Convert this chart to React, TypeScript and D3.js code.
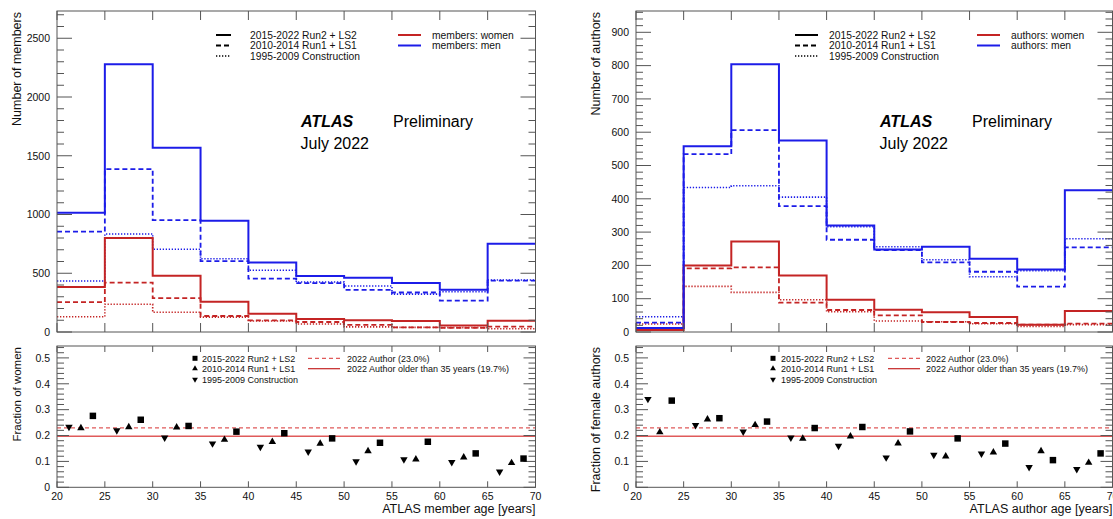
import React from 'react';
import * as d3 from 'd3';

// ---- data ----------------------------------------------------------------
const ageEdges = [20, 25, 30, 35, 40, 45, 50, 55, 60, 65, 70];
const ageTicks = [20, 25, 30, 35, 40, 45, 50, 55, 60, 65, 70];

// ATLAS members per 5-year age bin
const memberMenRun2 = [1015, 2278, 1568, 947, 592, 477, 462, 416, 359, 751];
const memberMenRun1 = [854, 1387, 953, 604, 455, 416, 359, 336, 267, 437];
const memberMenConstr = [434, 834, 704, 624, 525, 425, 392, 322, 343, 442];
const memberWomenRun2 = [383, 800, 479, 258, 156, 111, 99, 94, 55, 96];
const memberWomenRun1 = [255, 420, 289, 136, 99, 85, 60, 40, 35, 45];
const memberWomenConstr = [130, 236, 168, 127, 94, 68, 44, 39, 37, 28];

// ATLAS authors per 5-year age bin
const authorMenRun2 = [12, 558, 804, 575, 320, 248, 256, 220, 188, 426];
const authorMenRun1 = [28, 534, 606, 378, 277, 246, 209, 181, 136, 254];
const authorMenConstr = [46, 434, 439, 405, 316, 256, 217, 166, 184, 280];
const authorWomenRun2 = [6, 200, 272, 170, 97, 67, 59, 45, 22, 63];
const authorWomenRun1 = [7, 191, 194, 88, 66, 50, 30, 27, 22, 25];
const authorWomenConstr = [24, 137, 119, 97, 61, 33, 31, 25, 17, 22];

// fraction of women (members)
const fracMemberConstr = [0.233, 0.22, 0.192, 0.169, 0.156, 0.138, 0.1, 0.108, 0.097, 0.06];
const fracMemberRun1 = [0.229, 0.233, 0.232, 0.184, 0.176, 0.169, 0.14, 0.108, 0.116, 0.094];
const fracMemberRun2 = [0.276, 0.261, 0.237, 0.215, 0.209, 0.189, 0.172, 0.176, 0.131, 0.111];

// fraction of female authors
const fracAuthorConstr = [0.341, 0.24, 0.215, 0.192, 0.16, 0.115, 0.125, 0.13, 0.078, 0.07];
const fracAuthorRun1 = [0.213, 0.263, 0.241, 0.188, 0.197, 0.17, 0.12, 0.135, 0.14, 0.095];
const fracAuthorRun2 = [0.335, 0.267, 0.254, 0.229, 0.233, 0.216, 0.189, 0.169, 0.105, 0.131];

const author2022Frac = 0.23;
const author2022Over35Frac = 0.197;

const memberYTicks = [0, 500, 1000, 1500, 2000, 2500];
const authorYTicks = [0, 100, 200, 300, 400, 500, 600, 700, 800, 900];
const fracYTicks = [0, 0.1, 0.2, 0.3, 0.4, 0.5];
const fracYTickLabels = ['0', '0.1', '0.2', '0.3', '0.4', '0.5'];

const periodLabels = ['2015-2022 Run2 + LS2', '2010-2014 Run1 + LS1', '1995-2009 Construction'];

// ---- style ---------------------------------------------------------------
const FONT = "'Liberation Sans', Arial, Helvetica, sans-serif";
const BLUE = '#1c1ce8';
const RED = '#c42424';
const REF_RED = '#e05a5a';
const AXIS = '#555';
const dashFor = ['none', '5,3', '1.3,1.7'];
const widthFor = [2, 1.8, 1.6];

const W = 1113;
const H = 519;

type PanelX = { x0: number; x1: number };
const LEFT: PanelX = { x0: 57, x1: 535.5 };
const RIGHT: PanelX = { x0: 636, x1: 1112.5 };
const TOP = { y0: 11, y1: 332 };
const BOT = { y0: 346, y1: 487.3 };

function stepPath(x: d3.ScaleLinear<number, number>, y: d3.ScaleLinear<number, number>, vals: number[]) {
  const pts: [number, number][] = vals.map((v, i) => [ageEdges[i], v]);
  pts.push([ageEdges[ageEdges.length - 1], vals[vals.length - 1]]);
  return d3
    .line<[number, number]>()
    .x((d) => x(d[0]))
    .y((d) => y(d[1]))
    .curve(d3.curveStepAfter)(pts) as string;
}

function Frame({
  px, y0, y1, yScale, xScale, majors, minors, majorLen, minorLen, xTickLen, labels, xLabels,
}: {
  px: PanelX; y0: number; y1: number;
  yScale: d3.ScaleLinear<number, number>; xScale: d3.ScaleLinear<number, number>;
  majors: number[]; minors: number[]; majorLen: number; minorLen: number; xTickLen: number;
  labels: string[]; xLabels: boolean;
}) {
  return (
    <g>
      <rect x={px.x0} y={y0} width={px.x1 - px.x0} height={y1 - y0} fill="none" stroke={AXIS} strokeWidth={1} />
      {minors.map((v, i) => (
        <g key={'mn' + i}>
          <line x1={px.x0} x2={px.x0 + minorLen} y1={yScale(v)} y2={yScale(v)} stroke={AXIS} />
          <line x1={px.x1} x2={px.x1 - minorLen} y1={yScale(v)} y2={yScale(v)} stroke={AXIS} />
        </g>
      ))}
      {majors.map((v, i) => (
        <g key={'mj' + i}>
          <line x1={px.x0} x2={px.x0 + majorLen} y1={yScale(v)} y2={yScale(v)} stroke={AXIS} />
          <line x1={px.x1} x2={px.x1 - majorLen} y1={yScale(v)} y2={yScale(v)} stroke={AXIS} />
          <text x={px.x0 - 7} y={yScale(v)} dy="0.36em" textAnchor="end" fontSize={10.5} fontFamily={FONT} fill="#111">
            {labels[i]}
          </text>
        </g>
      ))}
      {ageTicks.map((a, i) => (
        <g key={'xt' + i}>
          <line x1={xScale(a)} x2={xScale(a)} y1={y1} y2={y1 - xTickLen} stroke={AXIS} />
          <line x1={xScale(a)} x2={xScale(a)} y1={y0} y2={y0 + xTickLen} stroke={AXIS} />
          {xLabels && (
            <text x={xScale(a)} y={500} textAnchor="middle" fontSize={10.5} fontFamily={FONT} fill="#111">
              {a}
            </text>
          )}
        </g>
      ))}
    </g>
  );
}

function HistPanel({
  px, yMax, majors, minorStep, men, women, yTitle, titleX, sexLabels,
  legLine, legText, sexLine, sexText,
}: {
  px: PanelX; yMax: number; majors: number[]; minorStep: number;
  men: number[][]; women: number[][]; yTitle: string; titleX: number; sexLabels: string[];
  legLine: [number, number]; legText: number; sexLine: [number, number]; sexText: number;
}) {
  const x = d3.scaleLinear().domain([20, 70]).range([px.x0, px.x1]);
  const y = d3.scaleLinear().domain([0, yMax]).range([TOP.y1, TOP.y0]);
  const minors = d3.range(0, yMax, minorStep).filter((v) => !majors.includes(v));
  const legRows = [35, 45.5, 56];
  const cx = px.x0 + 244;
  return (
    <g>
      {[2, 1, 0].map((k) => (
        <g key={'h' + k}>
          <path d={stepPath(x, y, women[k])} fill="none" stroke={RED} strokeWidth={widthFor[k]} strokeDasharray={dashFor[k]} />
          <path d={stepPath(x, y, men[k])} fill="none" stroke={BLUE} strokeWidth={widthFor[k]} strokeDasharray={dashFor[k]} />
        </g>
      ))}
      <Frame
        px={px} y0={TOP.y0} y1={TOP.y1} yScale={y} xScale={x}
        majors={majors} minors={minors} majorLen={15} minorLen={7} xTickLen={9}
        labels={majors.map(String)} xLabels={false}
      />
      <text transform={`translate(${titleX},${TOP.y0 + 1}) rotate(-90)`} textAnchor="end" fontSize={12.5} fontFamily={FONT} fill="#111">
        {yTitle}
      </text>
      {periodLabels.map((t, k) => (
        <g key={'lg' + k}>
          <line x1={legLine[0]} x2={legLine[1]} y1={legRows[k]} y2={legRows[k]} stroke="#000" strokeWidth={widthFor[k]} strokeDasharray={dashFor[k]} />
          <text x={legText} y={legRows[k]} dy="0.36em" fontSize={10.3} fontFamily={FONT} fill="#111">{t}</text>
        </g>
      ))}
      {sexLabels.map((t, k) => (
        <g key={'sx' + k}>
          <line x1={sexLine[0]} x2={sexLine[1]} y1={legRows[k]} y2={legRows[k]} stroke={k === 0 ? RED : BLUE} strokeWidth={2} />
          <text x={sexText} y={legRows[k]} dy="0.36em" fontSize={10.3} fontFamily={FONT} fill="#111">{t}</text>
        </g>
      ))}
      <text x={cx} y={127} fontSize={16} fontFamily={FONT} fontWeight="bold" fontStyle="italic" fill="#000">ATLAS</text>
      <text x={cx + 92} y={127} fontSize={16} fontFamily={FONT} fill="#000">Preliminary</text>
      <text x={cx - 0.5} y={149} fontSize={16} fontFamily={FONT} fill="#000">July 2022</text>
    </g>
  );
}

const symSquare = d3.symbol().type(d3.symbolSquare);
const symTri = d3.symbol().type(d3.symbolTriangle);

function Marker({ kind, cx, cy, scale = 1 }: { kind: number; cx: number; cy: number; scale?: number }) {
  // kind 0: square (Run2), 1: up-triangle (Run1), 2: down-triangle (Construction)
  if (kind === 0) {
    return <path d={symSquare.size(42 * scale)() as string} transform={`translate(${cx},${cy})`} fill="#000" />;
  }
  const rot = kind === 2 ? 180 : 0;
  return <path d={symTri.size(24 * scale)() as string} transform={`translate(${cx},${cy}) rotate(${rot})`} fill="#000" />;
}

function FracPanel({
  px, fracs, yTitle, titleX, titleSize, xTitle, legMark, legText, lineSample, lineText,
}: {
  px: PanelX; fracs: number[][]; yTitle: string; titleX: number; titleSize: number; xTitle: string;
  legMark: number; legText: number; lineSample: [number, number]; lineText: number;
}) {
  const x = d3.scaleLinear().domain([20, 70]).range([px.x0, px.x1]);
  const y = d3.scaleLinear().domain([0, 0.546]).range([BOT.y1, BOT.y0]);
  const minors = d3.range(0, 0.546, 0.02).filter((v) => Math.abs(v * 10 - Math.round(v * 10)) > 1e-6);
  const offsets = [3.75, 2.5, 1.25];
  const rows = [358.3, 368.7, 379.3];
  return (
    <g>
      <line x1={x(20)} x2={x(70)} y1={y(author2022Frac)} y2={y(author2022Frac)} stroke={REF_RED} strokeWidth={1.2} strokeDasharray="4,3" />
      <line x1={x(20)} x2={x(70)} y1={y(author2022Over35Frac)} y2={y(author2022Over35Frac)} stroke={REF_RED} strokeWidth={1.4} />
      <Frame
        px={px} y0={BOT.y0} y1={BOT.y1} yScale={y} xScale={x}
        majors={fracYTicks} minors={minors} majorLen={12} minorLen={7} xTickLen={6}
        labels={fracYTickLabels} xLabels={true}
      />
      {fracs.map((series, k) =>
        series.map((v, i) => <Marker key={`m${k}-${i}`} kind={k} cx={x(ageEdges[i] + offsets[k])} cy={y(v)} />)
      )}
      <text transform={`translate(${titleX},${BOT.y0 + 1}) rotate(-90)`} textAnchor="end" fontSize={titleSize} fontFamily={FONT} fill="#111">
        {yTitle}
      </text>
      <text x={px.x1} y={513} textAnchor="end" fontSize={12.5} fontFamily={FONT} fill="#111">{xTitle}</text>
      {periodLabels.map((t, k) => (
        <g key={'fl' + k}>
          <Marker kind={k} cx={legMark} cy={rows[k]} scale={0.6} />
          <text x={legText} y={rows[k]} dy="0.36em" fontSize={9} fontFamily={FONT} fill="#111">{t}</text>
        </g>
      ))}
      <line x1={lineSample[0]} x2={lineSample[1]} y1={rows[0]} y2={rows[0]} stroke={REF_RED} strokeWidth={1.2} strokeDasharray="4,3" />
      <text x={lineText} y={rows[0]} dy="0.36em" fontSize={9} fontFamily={FONT} fill="#111">2022 Author (23.0%)</text>
      <line x1={lineSample[0]} x2={lineSample[1]} y1={rows[1]} y2={rows[1]} stroke={RED} strokeWidth={1.2} />
      <text x={lineText} y={rows[1]} dy="0.36em" fontSize={9} fontFamily={FONT} fill="#111">2022 Author older than 35 years (19.7%)</text>
    </g>
  );
}

export default function App() {
  return (
    <svg
      width={W}
      height={H}
      viewBox={`0 0 ${W} ${H}`}
      style={{ position: 'absolute', left: 0, top: 0, background: '#fff', display: 'block' }}
    >
      <rect width={W} height={H} fill="#fff" />
      <HistPanel
        px={LEFT} yMax={2732} majors={memberYTicks} minorStep={100}
        men={[memberMenRun2, memberMenRun1, memberMenConstr]}
        women={[memberWomenRun2, memberWomenRun1, memberWomenConstr]}
        yTitle="Number of members" titleX={20.5}
        sexLabels={['members: women', 'members: men']}
        legLine={[216, 231]} legText={250} sexLine={[398, 421]} sexText={432}
      />
      <HistPanel
        px={RIGHT} yMax={964} majors={authorYTicks} minorStep={20}
        men={[authorMenRun2, authorMenRun1, authorMenConstr]}
        women={[authorWomenRun2, authorWomenRun1, authorWomenConstr]}
        yTitle="Number of authors" titleX={600}
        sexLabels={['authors: women', 'authors: men']}
        legLine={[795, 818]} legText={829} sexLine={[977, 1000]} sexText={1011}
      />
      <FracPanel
        px={LEFT} fracs={[fracMemberRun2, fracMemberRun1, fracMemberConstr]}
        yTitle="Fraction of women" titleX={21} titleSize={11.5} xTitle="ATLAS member age [years]"
        legMark={195} legText={202} lineSample={[308, 340]} lineText={347}
      />
      <FracPanel
        px={RIGHT} fracs={[fracAuthorRun2, fracAuthorRun1, fracAuthorConstr]}
        yTitle="Fraction of female authors" titleX={600} titleSize={12.5} xTitle="ATLAS author age [years]"
        legMark={773} legText={781} lineSample={[888, 920]} lineText={926}
      />
    </svg>
  );
}
